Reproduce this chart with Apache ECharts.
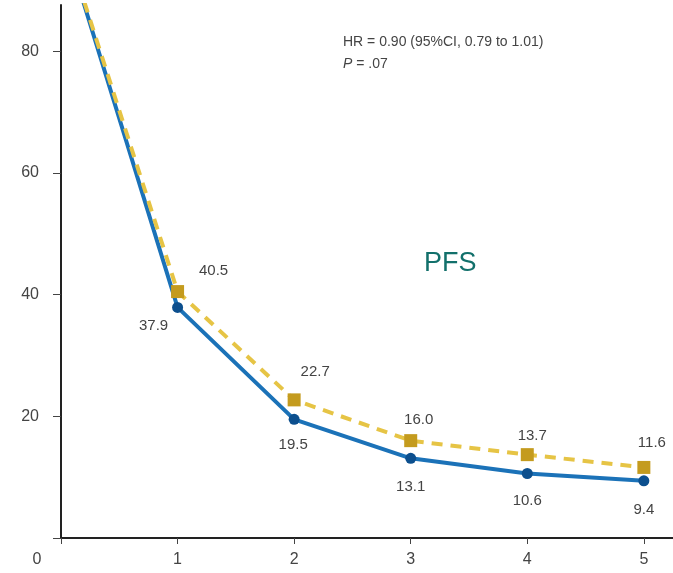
<!DOCTYPE html>
<html>
<head>
<meta charset="utf-8">
<script src="https://cdn.jsdelivr.net/npm/echarts@6/dist/echarts.min.js"></script>
<style>
  html, body { margin: 0; padding: 0; background: #fff; }
  #main { width: 673px; height: 573px; }
</style>
</head>
<body>
<div id="main"></div>
<script>
// years and survival (%) for each arm
const years = [0, 1, 2, 3, 4, 5]
const armBlue = [100, 37.9, 19.5, 13.1, 10.6, 9.4]
const armGold = [100, 40.5, 22.7, 16.0, 13.7, 11.6]
const yTicks = [0, 20, 40, 60, 80]
const statText = ['HR = 0.90 (95%CI, 0.79 to 1.01)', '.07']
const panelName = 'PFS'

// label offsets (px) around each point, first point has no label
const goldOffsets = [null, [36, -21], [21, -28], [8, -21], [5, -19], [8, -25]]
const blueOffsets = [null, [-24, 18], [-1, 26], [0, 29], [0, 27], [0, 29]]

const font = 'Liberation Sans, Arial, sans-serif'

const buildData = (vals, offsets) => years.map((x, i) => {
  const item = { value: [x, vals[i]] }
  if (offsets[i]) {
    item.label = { show: true, position: 'inside', offset: offsets[i] }
  } else {
    item.label = { show: false }
    item.symbol = 'none'
  }
  return item
})

const chart = echarts.init(document.getElementById('main'))

const option = {
  animation: false,
  backgroundColor: '#fff',
  grid: { left: 61, right: 0, top: 5, bottom: 35, containLabel: false },
  title: {
    left: 338,
    top: 26,
    text: '{n|' + statText[0] + '}\n{i|P}{n| = ' + statText[1] + '}',
    textStyle: {
      fontWeight: 'normal',
      rich: {
        n: { fontFamily: font, fontSize: 14, fontWeight: 'normal', color: '#444', lineHeight: 22 },
        i: { fontFamily: font, fontSize: 14, fontWeight: 'normal', color: '#444', fontStyle: 'italic', lineHeight: 22 }
      }
    }
  },
  graphic: [{
    type: 'text',
    left: 424,
    top: 250,
    style: { text: panelName, fontFamily: font, fontSize: 27, fill: '#12706b' }
  }],
  xAxis: {
    type: 'value',
    min: 0,
    max: 5.25,
    interval: 1,
    axisLine: { show: true, lineStyle: { color: '#222', width: 2 } },
    axisTick: { show: true, length: 6, lineStyle: { color: '#444' } },
    splitLine: { show: false },
    axisLabel: {
      margin: 14,
      showMaxLabel: false,
      fontFamily: font,
      fontSize: 16,
      color: '#444',
      formatter: (v) => v === 0 ? '{z|0}' : String(v),
      rich: { z: { fontFamily: font, fontSize: 16, color: '#444', padding: [0, 48, 0, 0] } }
    }
  },
  yAxis: {
    type: 'value',
    min: 0,
    max: 87.6,
    interval: 20,
    axisLine: { show: true, lineStyle: { color: '#222', width: 2 } },
    axisTick: { show: true, length: 8, lineStyle: { color: '#444' } },
    splitLine: { show: false },
    axisLabel: {
      margin: 22,
      showMaxLabel: false,
      fontFamily: font,
      fontSize: 16,
      color: '#444',
      formatter: (v) => (yTicks.includes(v) && v !== 0) ? String(v) : ''
    }
  },
  series: [
    {
      name: 'blue',
      type: 'line',
      data: buildData(armBlue, blueOffsets),
      symbol: 'circle',
      symbolSize: 11,
      itemStyle: { color: '#0c4f8e' },
      lineStyle: { color: '#1b72b8', width: 4 },
      label: { fontFamily: font, fontSize: 15, color: '#444', formatter: (p) => p.value[1].toFixed(1) },
      z: 2
    },
    {
      name: 'gold',
      type: 'line',
      data: buildData(armGold, goldOffsets),
      symbol: 'rect',
      symbolSize: 13,
      itemStyle: { color: '#c49b1e' },
      lineStyle: { color: '#e6c445', width: 4, type: [11, 8] },
      label: { fontFamily: font, fontSize: 15, color: '#444', formatter: (p) => p.value[1].toFixed(1) },
      z: 3
    }
  ]
}

option && chart.setOption(option)
</script>
</body>
</html>
